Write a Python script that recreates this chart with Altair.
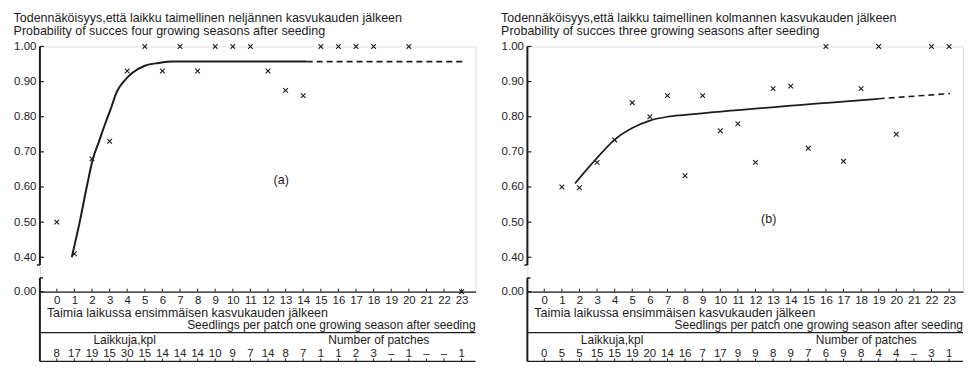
import altair as alt
import pandas as pd

FONT = "Liberation Sans"
INK = "#1c1c1c"

X_TICKS = list(range(24))
Y_TICKS = [0.0, 0.4, 0.5, 0.6, 0.7, 0.8, 0.9, 1.0]

# ---- panel (a): four growing seasons ----
A_TITLE = ["Todennäköisyys,että laikku taimellinen neljännen kasvukauden jälkeen",
           "Probability of succes four growing seasons after seeding"]
A_X = [0, 1, 2, 3, 4, 5, 6, 7, 8, 9, 10, 11, 12, 13, 14, 15, 16, 17, 18, 20, 23]
A_P = [0.50, 0.41, 0.68, 0.73, 0.93, 1.00, 0.93, 1.00, 0.93, 1.00, 1.00, 1.00,
       0.93, 0.875, 0.86, 1.00, 1.00, 1.00, 1.00, 1.00, 0.00]
A_CURVE_X = [0.85, 1.3, 1.7, 2.05, 2.4, 2.75, 3.05, 3.4, 3.8, 4.3, 5.0, 5.8, 6.6, 14.2]
A_CURVE_Y = [0.40, 0.50, 0.60, 0.68, 0.73, 0.78, 0.82, 0.87, 0.90, 0.925, 0.945, 0.953, 0.957, 0.957]
A_DASH_X = [14.2, 23.1]
A_DASH_Y = [0.957, 0.957]
A_COUNTS = ["8", "17", "19", "15", "30", "15", "14", "14", "14", "10", "9", "7", "14",
            "8", "7", "1", "1", "2", "3", "–", "1", "–", "–", "1"]
A_LABEL = ["(a)", 12.75, 0.62]

# ---- panel (b): three growing seasons ----
B_TITLE = ["Todennäköisyys,että laikku taimellinen kolmannen kasvukauden jälkeen",
           "Probability of succes three growing seasons after seeding"]
B_X = [1, 2, 3, 4, 5, 6, 7, 8, 9, 10, 11, 12, 13, 14, 15, 16, 17, 18, 19, 20, 22, 23]
B_P = [0.60, 0.598, 0.67, 0.734, 0.84, 0.80, 0.86, 0.632, 0.86, 0.76, 0.78, 0.67,
       0.88, 0.887, 0.71, 1.00, 0.673, 0.88, 1.00, 0.75, 1.00, 1.00]
B_CURVE_X = [1.75, 2.3, 3.0, 4.0, 5.0, 6.0, 7.0, 8.0, 19.0]
B_CURVE_Y = [0.61, 0.643, 0.683, 0.735, 0.768, 0.789, 0.800, 0.805, 0.851]
B_DASH_X = [19.0, 23.05]
B_DASH_Y = [0.851, 0.866]
B_COUNTS = ["0", "5", "5", "15", "15", "19", "20", "14", "16", "7", "17", "9", "9",
            "8", "9", "7", "6", "9", "8", "4", "4", "–", "3", "1"]
B_LABEL = ["(b)", 12.75, 0.51]

ROW1 = "Taimia laikussa ensimmäisen kasvukauden jälkeen"
ROW2 = "Seedlings per patch one growing season after seeding"
ROW3A = "Laikkuja,kpl"
ROW3B = "Number of patches"

W, H = 437, 246
GAP = 34.5           # pixels between 0.00 and 0.40 (broken axis)
XDOM = [-0.96, 23.79]
BRK_TOP = 0.31       # end of upper axis segment
BRK_BOT = 0.16       # start of lower axis segment
BOT = 70             # bottom rule below the 0.00 line

X_AXIS = alt.Axis(values=X_TICKS, format="d", title=None, domain=True, domainColor=INK,
                  domainWidth=1.3, ticks=False, labelPadding=3, labelFontSize=11.5,
                  labelColor=INK, grid=False, labelOverlap=False, labelFlush=False)
Y_AXIS = alt.Axis(values=Y_TICKS, format=".2f", title=None, domain=False, ticks=False,
                  labelPadding=4, labelFontSize=11.5, labelColor=INK, grid=False,
                  labelOverlap=False, labelFlush=False)


def panel(title, px, py, cx, cy, dx, dy, counts, label, curve_w):
    xs = alt.Scale(domain=XDOM, nice=False, zero=False)
    ys = alt.Scale(domain=[0.0, 0.4, 1.0], range=[H, H - GAP, 0], nice=False, zero=False)

    def X(f):
        return alt.X(f, type="quantitative", scale=xs, axis=X_AXIS)

    def Y(f):
        return alt.Y(f, type="quantitative", scale=ys, axis=Y_AXIS)

    axes = alt.Chart(pd.DataFrame({"x": [0.0], "y": [0.0]})).mark_point(opacity=0).encode(
        x=X("x"), y=Y("y"))

    ydf = pd.DataFrame({"y": Y_TICKS})
    yticks = alt.Chart(ydf).mark_rule(color=INK, strokeWidth=1.2).encode(
        x=alt.value(0), x2=alt.value(4), y=Y("y"))

    seg = pd.DataFrame({"y": [1.0], "y2": [BRK_TOP]})
    upper = alt.Chart(seg).mark_rule(color=INK, strokeWidth=2).encode(
        x=alt.value(0), y=Y("y"), y2=alt.Y2("y2"))
    seg2 = pd.DataFrame({"y": [BRK_BOT]})
    lower = alt.Chart(seg2).mark_rule(color=INK, strokeWidth=2).encode(
        x=alt.value(0), y=Y("y"), y2=alt.value(H + BOT))
    hook1 = alt.Chart(seg).mark_rule(color=INK, strokeWidth=1.5).encode(
        x=alt.value(0), x2=alt.value(-3), y=Y("y2"))
    hook2 = alt.Chart(seg2).mark_rule(color=INK, strokeWidth=1.5).encode(
        x=alt.value(0), x2=alt.value(3), y=Y("y"))

    tdf = pd.DataFrame({"x": X_TICKS})
    xticks0 = alt.Chart(tdf).mark_rule(color=INK, strokeWidth=1).encode(
        x=X("x"), y=alt.value(H - 3), y2=alt.value(H))
    xticks1 = alt.Chart(tdf).mark_rule(color=INK, strokeWidth=1).encode(
        x=X("x"), y=alt.value(H + BOT - 3), y2=alt.value(H + BOT))

    line_mid = alt.Chart(pd.DataFrame({"k": [1]})).mark_rule(color=INK, strokeWidth=1.3).encode(
        x=alt.value(0), x2=alt.value(W), y=alt.value(H + 41))
    line_bot = alt.Chart(pd.DataFrame({"k": [1]})).mark_rule(color=INK, strokeWidth=1.3).encode(
        x=alt.value(0), x2=alt.value(W), y=alt.value(H + BOT))

    txt = dict(font=FONT, color=INK, baseline="middle")
    r1 = alt.Chart(pd.DataFrame({"t": [ROW1]})).mark_text(align="left", fontSize=12.5, **txt).encode(
        x=alt.value(7), y=alt.value(H + 21), text="t:N")
    r2 = alt.Chart(pd.DataFrame({"t": [ROW2]})).mark_text(align="right", fontSize=12, **txt).encode(
        x=alt.value(W), y=alt.value(H + 33.5), text="t:N")
    r3 = alt.Chart(pd.DataFrame({"t": [ROW3A]})).mark_text(align="center", fontSize=12, **txt).encode(
        x=alt.value(85), y=alt.value(H + 48.5), text="t:N")
    r4 = alt.Chart(pd.DataFrame({"t": [ROW3B]})).mark_text(align="center", fontSize=12, **txt).encode(
        x=alt.value(340), y=alt.value(H + 48.5), text="t:N")
    cdf = pd.DataFrame({"x": X_TICKS, "n": counts})
    cnt = alt.Chart(cdf).mark_text(align="center", fontSize=11.5, **txt).encode(
        x=X("x"), y=alt.value(H + 62.5), text="n:N")

    curve = alt.Chart(pd.DataFrame({"x": cx, "y": cy})).mark_line(
        color=INK, strokeWidth=curve_w, interpolate="monotone").encode(x=X("x"), y=Y("y"))
    dash = alt.Chart(pd.DataFrame({"x": dx, "y": dy})).mark_line(
        color=INK, strokeWidth=curve_w * 0.9, strokeDash=[6, 4]).encode(x=X("x"), y=Y("y"))

    pts = alt.Chart(pd.DataFrame({"x": px, "y": py})).mark_point(
        shape="M-1,-1L1,1M-1,1L1,-1", size=22, color=INK, strokeWidth=1.1,
        filled=False, opacity=1).encode(x=X("x"), y=Y("y"))

    lab = alt.Chart(pd.DataFrame({"t": [label[0]], "x": [label[1]], "y": [label[2]]})).mark_text(
        align="center", font=FONT, fontSize=12.5, color=INK, baseline="middle").encode(
        x=X("x"), y=Y("y"), text="t:N")

    return alt.layer(axes, yticks, upper, lower, hook1, hook2, xticks0, xticks1,
                     line_mid, line_bot, r1, r2, r3, r4, cnt, curve, dash, pts, lab).properties(
        width=W, height=H,
        title=alt.TitleParams(text=title, anchor="start", frame="bounds", font=FONT,
                              fontSize=12.5, fontWeight="normal", color=INK,
                              lineHeight=13, offset=3),
    )


left = panel(A_TITLE, A_X, A_P, A_CURVE_X, A_CURVE_Y, A_DASH_X, A_DASH_Y, A_COUNTS, A_LABEL, 2.0)
right = panel(B_TITLE, B_X, B_P, B_CURVE_X, B_CURVE_Y, B_DASH_X, B_DASH_Y, B_COUNTS, B_LABEL, 1.7)

chart = alt.hconcat(left, right, spacing=23).properties(
    padding={"left": 5, "top": 3, "right": 0, "bottom": 0}
).configure_view(stroke=None).configure(font=FONT, background="white")

chart.save("out.html", embed_options={"renderer": "svg", "actions": False})
